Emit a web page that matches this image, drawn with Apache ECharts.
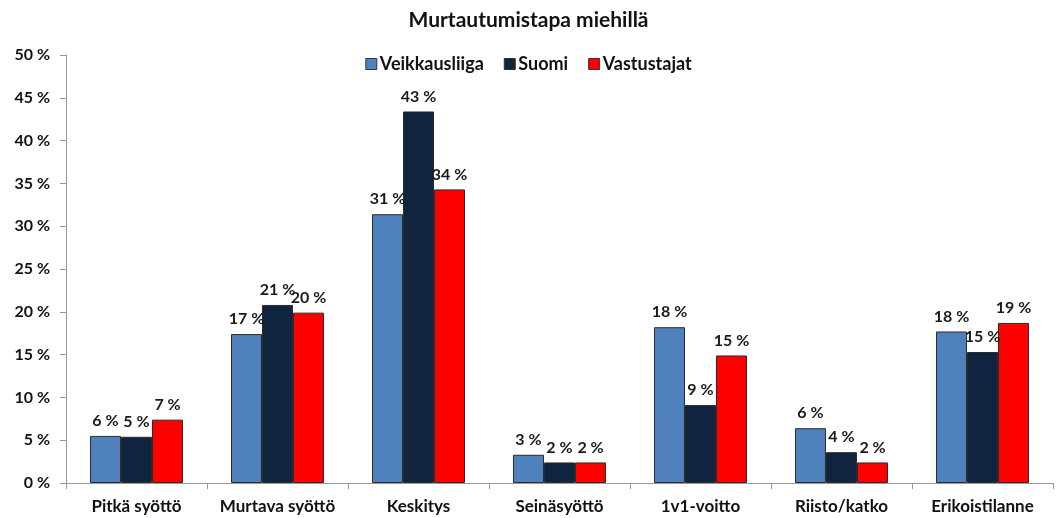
<!DOCTYPE html>
<html><head><meta charset="utf-8">
<script src="https://cdn.jsdelivr.net/npm/echarts@6/dist/echarts.min.js"></script>
<style>html,body{margin:0;padding:0;background:#fff}#c{width:1057px;height:518px}</style>
</head><body><div id="c"></div>
<script>
const categories = ['Pitkä syöttö','Murtava syöttö','Keskitys','Seinäsyöttö','1v1-voitto','Riisto/katko','Erikoistilanne'];
const veikkausliiga = [5.5, 17.4, 31.4, 3.3, 18.2, 6.4, 17.7];
const suomi = [5.4, 20.8, 43.4, 2.4, 9.1, 3.6, 15.3];
const vastustajat = [7.4, 19.9, 34.3, 2.4, 14.9, 2.4, 18.7];
const seriesNames = ['Veikkausliiga','Suomi','Vastustajat'];
const colors = ['#4F81BD','#11243F','#FF0000'];
const FONT = 'Lato';
const chart = echarts.init(document.getElementById('c'));
const mk = (name, data, color) => ({
  name, type:'bar', data,
  itemStyle:{color, borderColor:'#2b2b2b', borderWidth:1},
  label:{show:true, position:'top', distance:7, fontFamily:FONT, fontWeight:'bold', fontSize:16, color:'#1a1a1a',
    formatter: p => Math.round(p.value) + ' %'}
});
chart.setOption({
  animation:false,
  textStyle:{fontFamily:FONT},
  title:{text:'Murtautumistapa miehillä', left:'center', top:5,
    textStyle:{fontFamily:FONT, fontWeight:'bold', fontSize:21, color:'#111'}},
  legend:{data:seriesNames, top:50, left:'center', itemWidth:11, itemHeight:11, itemGap:20,
    icon:'rect',
    itemStyle:{borderColor:'#333', borderWidth:1},
    textStyle:{fontFamily:FONT, fontWeight:'bold', fontSize:18, color:'#111', padding:[0,0,0,-2]}},
  grid:{left:66, right:4, top:55, bottom:35},
  xAxis:{type:'category', data:categories,
    axisLine:{lineStyle:{color:'#999'}},
    axisTick:{show:true, length:6, lineStyle:{color:'#999'}},
    axisLabel:{interval:0, fontFamily:FONT, fontWeight:'bold', fontSize:17, color:'#111', margin:15}},
  yAxis:{type:'value', min:0, max:50, interval:5,
    axisLine:{show:true, lineStyle:{color:'#999'}},
    axisTick:{show:true, length:6, lineStyle:{color:'#999'}},
    splitLine:{show:false},
    axisLabel:{fontFamily:FONT, fontWeight:'bold', fontSize:16, color:'#111', margin:16, formatter:'{value} %'}},
  series:[
    Object.assign(mk(seriesNames[0], veikkausliiga, colors[0]), {barGap:'0%', barCategoryGap:'34%'}),
    mk(seriesNames[1], suomi, colors[1]),
    mk(seriesNames[2], vastustajat, colors[2])
  ]
});
</script></body></html>
